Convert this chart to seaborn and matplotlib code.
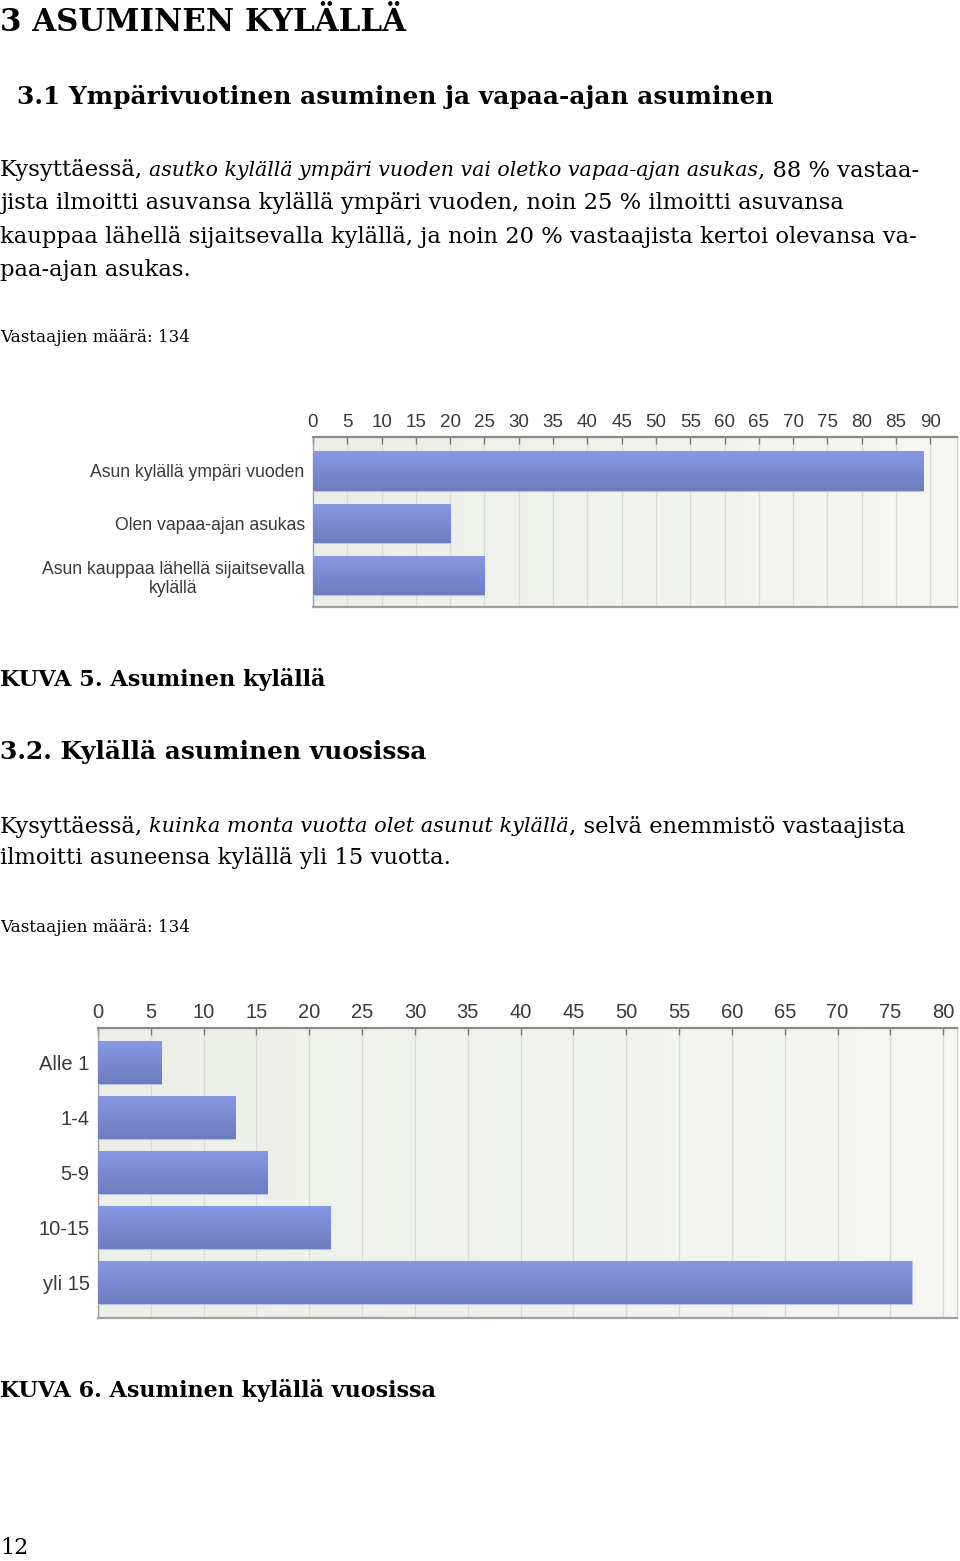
import numpy as np
import pandas as pd
import matplotlib
matplotlib.use("Agg")
import matplotlib.pyplot as plt
import seaborn as sns
from matplotlib import font_manager

# ---------------- data ----------------
cats1 = ["Asun kylällä ympäri vuoden", "Olen vapaa-ajan asukas",
         "Asun kauppaa lähellä sijaitsevalla\nkylällä"]
vals1 = [89, 20, 25]
ticks1 = list(range(0, 95, 5))

cats2 = ["Alle 1", "1-4", "5-9", "10-15", "yli 15"]
vals2 = [6, 13, 16, 22, 77]
ticks2 = list(range(0, 85, 5))

sns.set_theme(style="white")
plt.rcParams["font.family"] = ["DejaVu Serif"]

W, H = 960, 1561
fig = plt.figure(figsize=(W / 100, H / 100), dpi=100)
fig.patch.set_facecolor("white")

installed = {f.name for f in font_manager.fontManager.ttflist}
NARROW = "Liberation Sans Narrow" if "Liberation Sans Narrow" in installed else "Liberation Sans"
SERIF = "DejaVu Serif"
SANS = "Liberation Sans"

renderer = fig.canvas.get_renderer()


def fy(y):
    return 1 - y / H


def measure(txt, size, style, weight, family):
    t = fig.text(0, 0, txt, fontsize=size, family=family, style=style, weight=weight)
    w = t.get_window_extent(renderer=renderer).width
    t.remove()
    return w


def line(segments, x, y, size, family=SERIF, weight="normal", target=None, va="center"):
    """segments: list of (text, style). If target is given, the line is fitted
    to span the target width (italic parts resized, or the whole line)."""
    sizes = [size] * len(segments)
    if target is not None:
        fixed = sum(measure(t, size, s, weight, family) for t, s in segments if s != "italic")
        ital = sum(measure(t, size, s, weight, family) for t, s in segments if s == "italic")
        if ital > 0:
            k = (target - x - fixed) / ital
            sizes = [size * k if s == "italic" else size for t, s in segments]
        else:
            k = (target - x) / fixed
            sizes = [size * k for _ in segments]
    cx = x
    for (txt, style), sz in zip(segments, sizes):
        t = fig.text(cx / W, fy(y), txt, fontsize=sz, family=family,
                     style=style, weight=weight, va=va, ha="left",
                     color="black")
        cx += t.get_window_extent(renderer=renderer).width


# ---------------- page text ----------------
line([("3 ASUMINEN KYLÄLLÄ", "normal")], 0, 31, 22, weight="bold", target=405, va="baseline")
line([("3.1 Ympärivuotinen asuminen ja vapaa-ajan asuminen", "normal")], 17, 97, 17.9, weight="bold")

P = 16.3
line([("Kysyttäessä, ", "normal"),
      ("asutko kylällä ympäri vuoden vai oletko vapaa-ajan asukas", "italic"),
      (", 88 % vastaa-", "normal")], 0, 170, P, target=922)
line([("jista ilmoitti asuvansa kylällä ympäri vuoden, noin 25 % ilmoitti asuvansa", "normal")], 0, 203, P)
line([("kauppaa lähellä sijaitsevalla kylällä, ja noin 20 % vastaajista kertoi olevansa va-", "normal")], 0, 237, P)
line([("paa-ajan asukas.", "normal")], 0, 270, P)
line([("Vastaajien määrä: 134", "normal")], 0, 338, 12.1)

line([("KUVA 5. Asuminen kylällä", "normal")], 0, 680, 16.1, weight="bold")
line([("3.2. Kylällä asuminen vuosissa", "normal")], 0, 752, 17.9, weight="bold")
line([("Kysyttäessä, ", "normal"),
      ("kuinka monta vuotta olet asunut kylällä", "italic"),
      (", selvä enemmistö vastaajista", "normal")], 0, 827, P, target=905)
line([("ilmoitti asuneensa kylällä yli 15 vuotta.", "normal")], 0, 858, P)
line([("Vastaajien määrä: 134", "normal")], 0, 928, 12.1)
line([("KUVA 6. Asuminen kylällä vuosissa", "normal")], 0, 1390, 16, weight="bold")
line([("12", "normal")], 0, 1548, 16)


# ---------------- charts ----------------
def make_chart(rect, cats, vals, ticks, xmax, ylim, bar_w, lab_size, lab_family, tick_size):
    x0, y0, x1, y1 = rect
    ax = fig.add_axes([x0 / W, 1 - y1 / H, (x1 - x0) / W, (y1 - y0) / H])
    df = pd.DataFrame({"cat": cats, "val": vals})
    sns.barplot(data=df, x="val", y="cat", orient="h", ax=ax, width=bar_w,
                color="#7b8bd6", edgecolor="#b9c2f0", linewidth=0.8,
                saturation=1, zorder=3)
    # background gradient
    bg = np.linspace(0, 1, 256).reshape(1, -1)
    bg_cmap = matplotlib.colors.LinearSegmentedColormap.from_list("bg", ["#eceee8", "#f6f7f3"])
    ax.imshow(bg, cmap=bg_cmap, aspect="auto", extent=[0, 1, 0, 1],
              transform=ax.transAxes, zorder=0)
    # gradient bars
    grad = np.linspace(0, 1, 128).reshape(-1, 1)
    bar_cmap = matplotlib.colors.LinearSegmentedColormap.from_list(
        "bar", ["#8898e4", "#7a8ad2", "#6e7dbd"])
    for p in list(ax.patches):
        bx, by, bw, bh = p.get_x(), p.get_y(), p.get_width(), p.get_height()
        im = ax.imshow(grad, cmap=bar_cmap, aspect="auto",
                       extent=[bx, bx + bw, by + bh, by], zorder=4,
                       interpolation="bilinear")
        im.set_clip_path(p)
    ax.set_xlim(0, xmax)
    ax.set_ylim(*ylim)
    ax.set_xticks(ticks)
    ax.xaxis.tick_top()
    ax.xaxis.set_label_position("top")
    ax.set_xlabel("")
    ax.set_ylabel("")
    ax.grid(axis="x", color="#d9dbd6", linewidth=0.9, zorder=1)
    ax.set_axisbelow(True)
    ax.tick_params(axis="x", top=True, bottom=False, direction="in", length=5,
                   width=1, color="#777777", pad=4, labelsize=tick_size,
                   labelcolor="#3a3a3a")
    ax.tick_params(axis="y", left=False, length=0, pad=6, labelsize=lab_size,
                   labelcolor="#3a3a3a")
    for lab in ax.get_xticklabels():
        lab.set_family(NARROW)
    for lab in ax.get_yticklabels():
        lab.set_family(lab_family)
        lab.set_multialignment("center")
    for side, col, lw in [("top", "#8a8a8a", 1.6), ("left", "#a0a0a0", 1.0),
                          ("bottom", "#a0a0a0", 1.6), ("right", "#d0d0d0", 1.0)]:
        ax.spines[side].set_visible(True)
        ax.spines[side].set_color(col)
        ax.spines[side].set_linewidth(lw)
    return ax


make_chart((313, 437, 957, 607), cats1, vals1, ticks1, 93.9, (2.6, -0.65), 0.75,
           12.7, SANS, 13.5)
make_chart((98, 1028, 957, 1318), cats2, vals2, ticks2, 81.3, (4.65, -0.63), 0.79,
           14.5, NARROW, 14.5)

fig.savefig("out.png", dpi=100, facecolor="white")
